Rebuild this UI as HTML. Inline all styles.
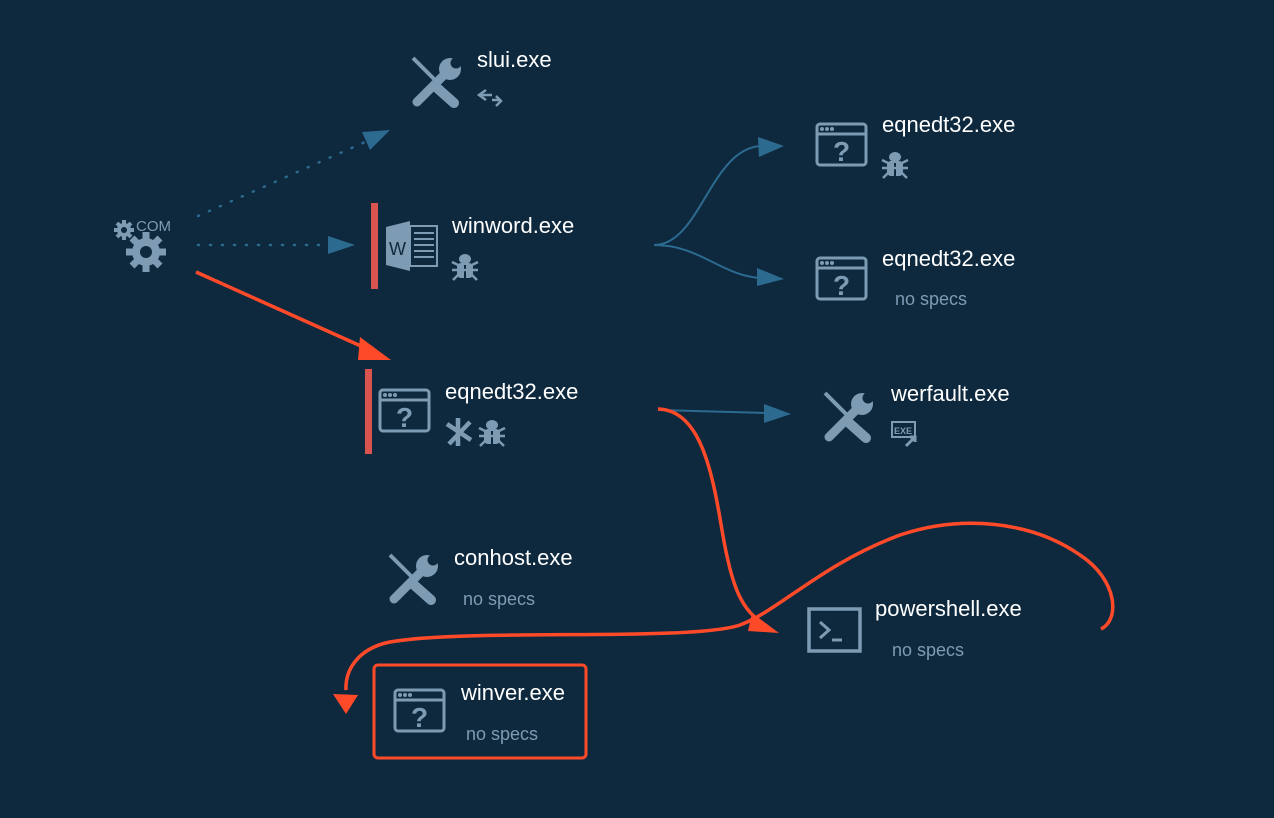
<!DOCTYPE html>
<html><head><meta charset="utf-8"><style>
html,body{margin:0;padding:0;background:#0e293e;}
svg{display:block}
text{font-family:"Liberation Sans",sans-serif}
.l{fill:#ffffff;font-size:22px}
.s{fill:#7d9bb3;font-size:18px}
</style></head><body>
<svg width="1274" height="818" viewBox="0 0 1274 818" xmlns="http://www.w3.org/2000/svg">
<defs>
<g id="win">
 <rect x="2" y="2" width="49" height="41" rx="3" fill="none" stroke="#7d9bb3" stroke-width="3"/>
 <line x1="2" y1="12" x2="51" y2="12" stroke="#7d9bb3" stroke-width="3"/>
 <circle cx="7" cy="7" r="2" fill="#7d9bb3"/><circle cx="12" cy="7" r="2" fill="#7d9bb3"/><circle cx="17" cy="7" r="2" fill="#7d9bb3"/>
 <text x="18" y="39" style="font-size:28px;fill:#7d9bb3;font-weight:bold">?</text>
</g>
<g id="tools">
 <line x1="3" y1="3" x2="30" y2="30" stroke="#7d9bb3" stroke-width="4"/>
 <line x1="26" y1="32" x2="44" y2="48" stroke="#7d9bb3" stroke-width="10" stroke-linecap="round"/>
 <line x1="7" y1="47" x2="34" y2="20" stroke="#7d9bb3" stroke-width="9" stroke-linecap="round"/>
 <circle cx="40" cy="14" r="11" fill="#7d9bb3"/>
 <circle cx="46" cy="8" r="5.5" fill="#0e293e"/>
</g>
<g id="bug">
 <ellipse cx="13" cy="6" rx="6" ry="5" fill="#7d9bb3"/>
 <rect x="5" y="10" width="16" height="15" rx="4" fill="#7d9bb3"/>
 <line x1="13" y1="12" x2="13" y2="25" stroke="#0e293e" stroke-width="2"/>
 <path d="M0 9 L6 12 M26 9 L20 12 M0 17 H26 M1 27 L7 21 M25 27 L19 21" stroke="#7d9bb3" stroke-width="2.5" fill="none"/>
</g>
</defs>

<!-- COM gears -->
<g fill="#7d9bb3">
 <circle cx="124" cy="230" r="7"/>
 <path d="M124 220 v20 M114 230 h20 M117 223 l14 14 M131 223 l-14 14" stroke="#7d9bb3" stroke-width="4"/>
 <circle cx="124" cy="230" r="3" fill="#0e293e"/>
 <circle cx="146" cy="252" r="14"/>
 <path d="M146 232 v40 M126 252 h40 M132 238 l28 28 M160 238 l-28 28" stroke="#7d9bb3" stroke-width="7"/>
 <circle cx="146" cy="252" r="6" fill="#0e293e"/>
 <text x="136" y="231" style="font-size:15px;fill:#7d9bb3">COM</text>
</g>

<!-- dotted connectors -->
<path d="M198 216 L365 142" stroke="#2d6a90" stroke-width="2.5" stroke-dasharray="1 11" stroke-linecap="round" fill="none"/>
<polygon points="390,130 362,132 370,150" fill="#2d6a90"/>
<path d="M198 245 L325 245" stroke="#2d6a90" stroke-width="2.5" stroke-dasharray="1 11" stroke-linecap="round" fill="none"/>
<polygon points="355,245 328,236 328,254" fill="#2d6a90"/>

<!-- blue curves -->
<path d="M654 245 C700 245 710 150 760 146" stroke="#2d6a90" stroke-width="2" fill="none"/>
<polygon points="784,146 758,137 759,157" fill="#2d6a90"/>
<path d="M654 245 C700 245 720 275 760 278" stroke="#2d6a90" stroke-width="2" fill="none"/>
<polygon points="784,279 757,268 757,286" fill="#2d6a90"/>
<path d="M658 410 L766 413" stroke="#2d6a90" stroke-width="2" fill="none"/>
<polygon points="791,414 764,404 764,423" fill="#2d6a90"/>

<!-- red arrows -->
<path d="M196 272 L372 351" stroke="#ff4a2a" stroke-width="3.5" fill="none"/>
<polygon points="391,360 360,337 358,360" fill="#ff4a2a"/>
<path d="M658 409 C700 410 712 470 722 530 C732 590 742 610 765 625" stroke="#ff4a2a" stroke-width="3.5" fill="none"/>
<polygon points="779,633 752,613 748,631" fill="#ff4a2a"/>
<path d="M1101 629 C1120 620 1118 580 1080 555 C1030 520 960 515 900 535 C820 565 780 610 740 625 C690 642 470 628 390 642 C360 648 345 668 346 690" stroke="#ff4a2a" stroke-width="3.5" fill="none"/>
<polygon points="346,714 333,694 358,695" fill="#ff4a2a"/>

<!-- slui -->
<use href="#tools" x="410" y="55"/>
<text class="l" x="477" y="67">slui.exe</text>
<path d="M486 90 L479 95 L486 100 M479 95 H492 M492 100 H501 M496 96 L501 101 L496 106" stroke="#7d9bb3" stroke-width="2.5" fill="none"/>

<!-- winword -->
<rect x="371" y="203" width="7" height="86" fill="#d9534f"/>
<path d="M386 227 L410 221 L410 271 L386 265 Z" fill="#7d9bb3"/>
<rect x="410" y="226" width="27" height="40" fill="none" stroke="#7d9bb3" stroke-width="2"/>
<path d="M414 233 h20 M414 239 h20 M414 245 h20 M414 251 h20 M414 257 h20" stroke="#7d9bb3" stroke-width="2"/>
<text x="389" y="255" style="font-size:18px;fill:#0e293e">W</text>
<text class="l" x="452" y="233">winword.exe</text>
<use href="#bug" x="452" y="253"/>

<!-- eqnedt32 main -->
<rect x="365" y="369" width="7" height="85" fill="#d9534f"/>
<use href="#win" x="378" y="388"/>
<text class="l" x="445" y="399">eqnedt32.exe</text>
<path d="M447 424 L471 440 M470 422 L449 444 M458 418 V446" stroke="#7d9bb3" stroke-width="4.5"/>
<use href="#bug" x="479" y="419"/>

<!-- right eqnedt32 -->
<use href="#win" x="815" y="122"/>
<text class="l" x="882" y="132">eqnedt32.exe</text>
<use href="#bug" x="882" y="151"/>
<use href="#win" x="815" y="256"/>
<text class="l" x="882" y="266">eqnedt32.exe</text>
<text class="s" x="895" y="305">no specs</text>

<!-- werfault -->
<use href="#tools" x="822" y="390"/>
<text class="l" x="891" y="401">werfault.exe</text>
<rect x="892" y="422" width="23" height="15" fill="none" stroke="#7d9bb3" stroke-width="2"/>
<text x="894" y="434" style="font-size:9px;fill:#7d9bb3;font-weight:bold">EXE</text>
<path d="M906 446 L915 437 M910 437 H915 V442" stroke="#7d9bb3" stroke-width="3" fill="none"/>

<!-- conhost -->
<use href="#tools" x="387" y="552"/>
<text class="l" x="454" y="565">conhost.exe</text>
<text class="s" x="463" y="605">no specs</text>

<!-- powershell -->
<rect x="809" y="609" width="51" height="42" fill="none" stroke="#7d9bb3" stroke-width="3.5"/>
<path d="M820 622 L829 630 L820 638 M832 640 H842" stroke="#7d9bb3" stroke-width="3" fill="none"/>
<text class="l" x="875" y="616">powershell.exe</text>
<text class="s" x="892" y="656">no specs</text>

<!-- winver -->
<rect x="374" y="665" width="212" height="93" rx="4" fill="none" stroke="#ff4a2a" stroke-width="3"/>
<use href="#win" x="393" y="688"/>
<text class="l" x="461" y="700">winver.exe</text>
<text class="s" x="466" y="740">no specs</text>
</svg>
</body></html>
